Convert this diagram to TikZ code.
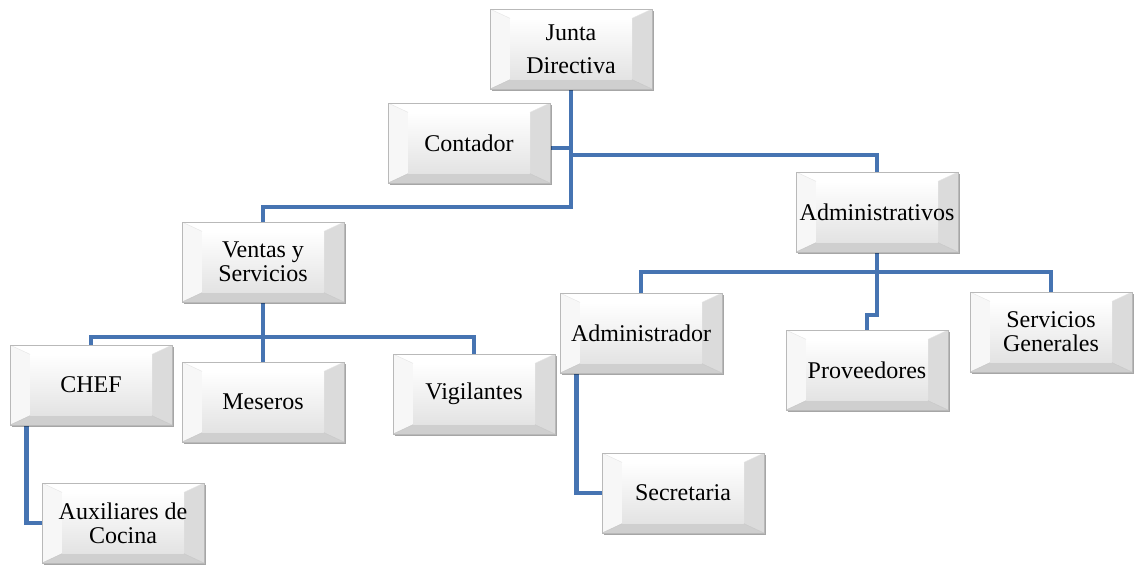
\documentclass[tikz,border=0pt]{standalone}
\usepackage{fontspec}
\setmainfont{Liberation Serif}
\usetikzlibrary{calc,shadows,backgrounds}
\definecolor{linkblue}{RGB}{70,116,178}
\tikzset{
  bevbox/.style={rectangle, minimum width=121.5pt, minimum height=60pt,
    inner sep=0pt, align=center, draw=gray!55, line width=0.5pt, fill=white,
    font=\fontsize{18}{18}\selectfont,
    drop shadow={shadow xshift=1.8pt, shadow yshift=-1.8pt, opacity=0.35, fill=black},
    path picture={
      \coordinate (NW) at (path picture bounding box.north west);
      \coordinate (NE) at (path picture bounding box.north east);
      \coordinate (SW) at (path picture bounding box.south west);
      \coordinate (SE) at (path picture bounding box.south east);
      \coordinate (iNW) at ($(NW)+(15pt,-7pt)$);
      \coordinate (iNE) at ($(NE)+(-15pt,-7pt)$);
      \coordinate (iSW) at ($(SW)+(15pt,7pt)$);
      \coordinate (iSE) at ($(SE)+(-15pt,7pt)$);
      \fill[white] (NW) -- (NE) -- (iNE) -- (iNW) -- cycle;
      \fill[gray!6] (NW) -- (iNW) -- (iSW) -- (SW) -- cycle;
      \fill[gray!28] (NE) -- (SE) -- (iSE) -- (iNE) -- cycle;
      \fill[gray!38] (SW) -- (iSW) -- (iSE) -- (SE) -- cycle;
      \shade[top color=white, bottom color=gray!22] (iNW) rectangle (iSE);
      \draw[white!80!gray, line width=0.3pt] (NW) -- (iNW) (NE) -- (iNE);
      \draw[gray!45, line width=0.3pt] (SW) -- (iSW) (SE) -- (iSE);
    }},
  link/.style={draw=linkblue, line width=3.4pt}
}
\begin{document}
\begin{tikzpicture}[x=0.75pt, y=-0.75pt]
  \useasboundingbox (0,0) rectangle (1136,565);

  % organisation units
  \node[bevbox, font=\fontsize{18}{25}\selectfont] (jd) at (571,49) {Junta\\Directiva};
  \node[bevbox] (cont) at (469,143) {Contador};
  \node[bevbox] (vs) at (263,262) {Ventas y\\Servicios};
  \node[bevbox] (adm) at (877,212) {Administrativos};
  \node[bevbox] (chef) at (91,385) {CHEF};
  \node[bevbox] (mes) at (263,402) {Meseros};
  \node[bevbox] (vig) at (474,394) {Vigilantes};
  \node[bevbox] (admr) at (641,333) {Administrador};
  \node[bevbox] (prov) at (867,370) {Proveedores};
  \node[bevbox] (sg) at (1051,332) {Servicios\\Generales};
  \node[bevbox] (aux) at (123,523) {Auxiliares de\\Cocina};
  \node[bevbox] (sec) at (683,493) {Secretaria};

  % junction points of the connector lines
  \coordinate (busA) at (571,207);
  \coordinate (busB) at (571,155);
  \coordinate (busC) at (263,337);
  \coordinate (busD) at (877,272);
  \coordinate (busE) at (877,315);

  \begin{scope}[on background layer]
    \draw[link] (jd.south) -- (busA) -| (vs.north);
    \draw[link] ([yshift=-3.75pt]cont.east) -- ([yshift=-3.75pt]cont.east -| jd.south);
    \draw[link] (busB) -| (adm.north);
    \draw[link] (vs.south) -- (busC);
    \draw[link] (chef.north) |- (vig.north |- busC) -- (vig.north);
    \draw[link] (busC) -- (mes.north);
    \draw[link] ([xshift=12.75pt]chef.south west) |- (aux.west);
    \draw[link] (adm.south) -- (busD);
    \draw[link] (admr.north) |- (sg.north |- busD) -- (sg.north);
    \draw[link] (busD) -- (busE) -| (prov.north);
    \draw[link] ([xshift=12.75pt]admr.south west) |- (sec.west);
  \end{scope}
\end{tikzpicture}
\end{document}
